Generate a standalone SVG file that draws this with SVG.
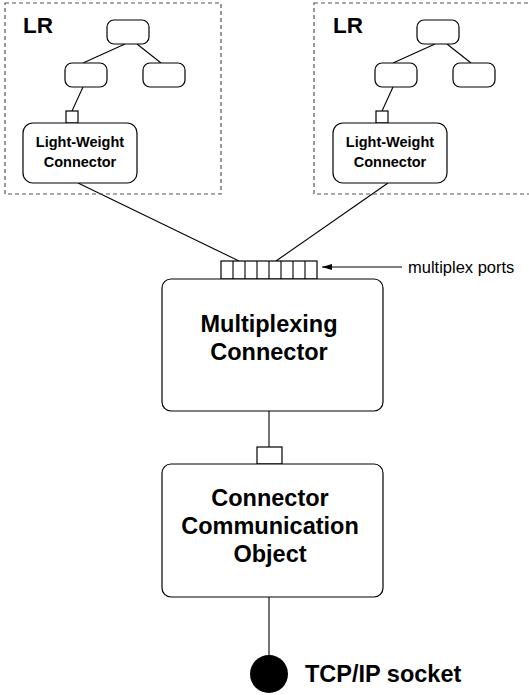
<svg xmlns="http://www.w3.org/2000/svg" width="529" height="695" viewBox="0 0 529 695">
<defs>
<style>
.lr{fill:none;stroke:#555;stroke-width:1.2;stroke-dasharray:4,3}
.box{fill:#fff;stroke:#000;stroke-width:1.2}
.ln{fill:none;stroke:#000;stroke-width:1.1}
.b{font-family:"Liberation Sans",Arial,Helvetica,sans-serif;font-weight:bold;fill:#000;text-anchor:middle}
.n{font-family:"Liberation Sans",Arial,Helvetica,sans-serif;fill:#000}
.big{font-size:23.5px}
.sm{font-size:14.5px}
</style>
<marker id="ah" viewBox="0 0 10 6" refX="10" refY="3" markerWidth="10" markerHeight="6" markerUnits="userSpaceOnUse" orient="auto">
<path d="M0,0 L10,3 L0,6 z" fill="#000"/>
</marker>
</defs>
<rect width="529" height="695" fill="#fff"/>

<g id="connectors">
<line class="ln" x1="125" y1="44" x2="83" y2="63"/>
<line class="ln" x1="137" y1="44" x2="161" y2="63"/>
<line class="ln" x1="83" y1="87" x2="72" y2="111"/>
<line class="ln" x1="435" y1="44" x2="393" y2="63"/>
<line class="ln" x1="447" y1="44" x2="471" y2="63"/>
<line class="ln" x1="393" y1="87" x2="382" y2="111"/>
<line class="ln" x1="78" y1="183" x2="239" y2="261"/>
<line class="ln" x1="388" y1="183" x2="276" y2="261"/>
<line class="ln" x1="269" y1="411" x2="269" y2="447"/>
<line class="ln" x1="269" y1="597" x2="269" y2="656"/>
<line class="ln" x1="402" y1="267" x2="322" y2="267" marker-end="url(#ah)"/>
</g>

<g id="lr-left">
<rect class="lr" x="5" y="3" width="216" height="191"/>
<text class="b" x="38" y="33" font-size="22.5">LR</text>
<rect class="box" x="107" y="20" width="42" height="24" rx="7"/>
<rect class="box" x="65" y="63" width="42" height="24" rx="7"/>
<rect class="box" x="143" y="63" width="42" height="24" rx="7"/>
</g>
<g id="lw-left">
<rect class="box" x="66" y="111" width="12" height="12"/>
<rect class="box" x="23" y="123" width="114" height="60" rx="10"/>
<text class="b sm" x="80" y="147">Light-Weight</text>
<text class="b sm" x="80" y="167">Connector</text>
</g>

<g id="lr-right">
<rect class="lr" x="314" y="3" width="216" height="191"/>
<text class="b" x="348" y="33" font-size="22.5">LR</text>
<rect class="box" x="417" y="20" width="42" height="24" rx="7"/>
<rect class="box" x="375" y="63" width="42" height="24" rx="7"/>
<rect class="box" x="453" y="63" width="42" height="24" rx="7"/>
</g>
<g id="lw-right">
<rect class="box" x="376" y="111" width="12" height="12"/>
<rect class="box" x="333" y="123" width="114" height="60" rx="10"/>
<text class="b sm" x="390" y="147">Light-Weight</text>
<text class="b sm" x="390" y="167">Connector</text>
</g>

<g id="multiplexing">
<rect class="box" x="221" y="261" width="96" height="18"/>
<path class="ln" d="M233,261V279M245,261V279M257,261V279M269,261V279M281,261V279M293,261V279M305,261V279"/>
<rect class="box" x="162" y="279" width="221" height="132" rx="9"/>
<text class="b big" x="269" y="332">Multiplexing</text>
<text class="b big" x="269" y="360">Connector</text>
</g>

<g id="ports-label">
<text class="n" x="408" y="273" font-size="16.5">multiplex ports</text>
</g>

<g id="cco">
<rect class="box" x="257" y="447" width="25" height="17"/>
<rect class="box" x="162" y="464" width="221" height="133" rx="9"/>
<text class="b big" x="270" y="506">Connector</text>
<text class="b big" x="270" y="534">Communication</text>
<text class="b big" x="270" y="562">Object</text>
</g>

<g id="socket">
<circle cx="269" cy="674" r="19" fill="#000"/>
<text class="b big" x="305" y="682" style="text-anchor:start">TCP/IP socket</text>
</g>
</svg>
